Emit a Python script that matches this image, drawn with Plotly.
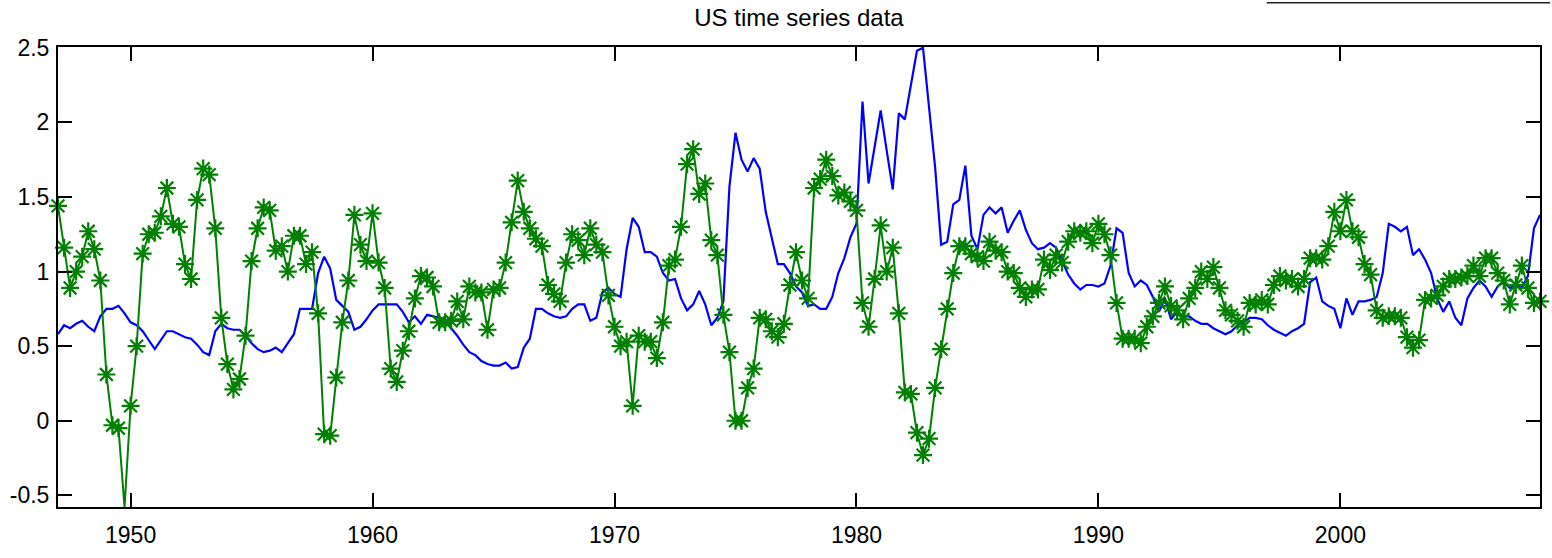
import numpy as np
import plotly.graph_objects as go

# Quarterly observations, 1947Q1 .. 2008Q2
start_year = 1947.0
quarter_step = 0.25

blue_series = [
    0.58, 0.64, 0.62, 0.65, 0.67, 0.63, 0.60, 0.70, 0.75, 0.75,
    0.77, 0.72, 0.66, 0.64, 0.60, 0.54, 0.48, 0.54, 0.60, 0.60,
    0.58, 0.56, 0.55, 0.51, 0.46, 0.44, 0.60, 0.65, 0.62, 0.61,
    0.61, 0.57, 0.52, 0.48, 0.46, 0.47, 0.49, 0.46, 0.52, 0.58,
    0.75, 0.75, 0.75, 0.99, 1.10, 1.02, 0.81, 0.77, 0.73, 0.61,
    0.63, 0.68, 0.74, 0.78, 0.78, 0.78, 0.78, 0.73, 0.66, 0.70,
    0.65, 0.71, 0.70, 0.69, 0.68, 0.62, 0.57, 0.51, 0.46, 0.44,
    0.40, 0.38, 0.37, 0.37, 0.39, 0.35, 0.36, 0.49, 0.55, 0.75,
    0.75, 0.72, 0.70, 0.69, 0.70, 0.75, 0.78, 0.78, 0.67, 0.69,
    0.86, 0.89, 0.85, 0.83, 1.15, 1.36, 1.30, 1.13, 1.13, 1.10,
    0.99, 0.94, 0.95, 0.82, 0.74, 0.78, 0.87, 0.78, 0.64, 0.69,
    0.80, 1.57, 1.93, 1.75, 1.67, 1.76, 1.69, 1.40, 1.22, 1.05,
    1.05, 0.99, 0.90, 0.86, 0.77, 0.78, 0.75, 0.75, 0.83, 0.99,
    1.09, 1.23, 1.32, 2.14, 1.59, 1.83, 2.08, 1.81, 1.55, 2.06,
    2.02, 2.25, 2.48, 2.50, 2.10, 1.70, 1.18, 1.20, 1.45, 1.48,
    1.71, 1.24, 1.15, 1.38, 1.43, 1.39, 1.43, 1.26, 1.34, 1.41,
    1.28, 1.19, 1.15, 1.16, 1.19, 1.16, 1.07, 0.98, 0.92, 0.88,
    0.91, 0.91, 0.90, 0.92, 1.04, 1.29, 1.26, 0.99, 0.90, 0.94,
    0.91, 0.83, 0.73, 0.82, 0.68, 0.73, 0.70, 0.70, 0.67, 0.65,
    0.65, 0.62, 0.60, 0.58, 0.60, 0.64, 0.66, 0.69, 0.69, 0.68,
    0.64, 0.61, 0.59, 0.57, 0.60, 0.62, 0.65, 0.93, 0.96, 0.80,
    0.77, 0.75, 0.62, 0.82, 0.71, 0.80, 0.80, 0.81, 0.83, 0.99,
    1.32, 1.30, 1.27, 1.30, 1.11, 1.15, 1.08, 0.99, 0.82, 0.73,
    0.80, 0.69, 0.64, 0.82, 0.89, 0.94, 0.90, 0.83, 0.90, 0.93,
    0.89, 0.91, 0.89, 0.97, 1.29, 1.38,
]

green_series = [
    1.44, 1.16, 0.89, 1.00, 1.10, 1.27, 1.15, 0.94, 0.31, -0.03,
    -0.05, -0.58, 0.10, 0.50, 1.12, 1.25, 1.26, 1.37, 1.56, 1.32,
    1.30, 1.05, 0.95, 1.48, 1.69, 1.65, 1.29, 0.69, 0.38, 0.21,
    0.28, 0.57, 1.07, 1.29, 1.43, 1.41, 1.14, 1.17, 1.00, 1.24,
    1.24, 1.05, 1.13, 0.72, -0.09, -0.10, 0.29, 0.66, 0.94, 1.38,
    1.18, 1.07, 1.39, 1.06, 0.89, 0.35, 0.26, 0.47, 0.60, 0.82,
    0.97, 0.96, 0.90, 0.66, 0.66, 0.67, 0.80, 0.68, 0.90, 0.86,
    0.86, 0.61, 0.88, 0.89, 1.06, 1.33, 1.61, 1.40, 1.29, 1.22,
    1.17, 0.91, 0.85, 0.80, 1.06, 1.25, 1.21, 1.11, 1.29, 1.18,
    1.13, 0.84, 0.63, 0.50, 0.53, 0.10, 0.57, 0.53, 0.53, 0.42,
    0.66, 1.04, 1.08, 1.30, 1.72, 1.82, 1.52, 1.59, 1.21, 1.11,
    0.71, 0.46, 0.00, 0.00, 0.22, 0.35, 0.69, 0.68, 0.60, 0.56,
    0.65, 0.91, 1.13, 0.94, 0.82, 1.56, 1.62, 1.75, 1.64, 1.51,
    1.53, 1.47, 1.41, 0.79, 0.63, 0.95, 1.31, 1.00, 1.16, 0.72,
    0.19, 0.18, -0.08, -0.23, -0.12, 0.22, 0.48, 0.75, 0.99, 1.17,
    1.17, 1.12, 1.10, 1.07, 1.20, 1.14, 1.13, 1.00, 0.99, 0.89,
    0.83, 0.88, 0.88, 1.08, 1.01, 1.11, 1.06, 1.20, 1.27, 1.26,
    1.27, 1.19, 1.32, 1.25, 1.11, 0.79, 0.55, 0.55, 0.55, 0.52,
    0.63, 0.70, 0.79, 0.90, 0.77, 0.74, 0.68, 0.82, 0.89, 1.00,
    0.95, 1.03, 0.89, 0.74, 0.71, 0.67, 0.63, 0.79, 0.78, 0.81,
    0.78, 0.91, 0.97, 0.94, 0.95, 0.90, 0.95, 1.09, 1.09, 1.08,
    1.17, 1.40, 1.27, 1.48, 1.27, 1.23, 1.05, 0.98, 0.74, 0.69,
    0.70, 0.70, 0.69, 0.56, 0.49, 0.54, 0.81, 0.82, 0.84, 0.90,
    0.95, 0.95, 0.96, 0.97, 1.04, 0.97, 1.09, 1.09, 0.99, 0.94,
    0.78, 0.91, 1.04, 0.89, 0.79, 0.80,
]

x_tick_vals = [1950, 1960, 1970, 1980, 1990, 2000]
x_tick_text = ["1950", "1960", "1970", "1980", "1990", "2000"]
y_tick_vals = [-0.5, 0, 0.5, 1, 1.5, 2, 2.5]
y_tick_text = ["-0.5", "0", "0.5", "1", "1.5", "2", "2.5"]
title_text = "US time series data"

years = start_year + quarter_step * np.arange(len(blue_series))

FONT = "Liberation Sans, Arial, Helvetica, sans-serif"

fig = go.Figure()
fig.add_trace(go.Scatter(
    x=years, y=blue_series, mode="lines",
    line=dict(color="#0000ff", width=2.2),
    showlegend=False,
))
fig.add_trace(go.Scatter(
    x=years, y=green_series, mode="lines+markers",
    line=dict(color="#008000", width=2),
    marker=dict(symbol="asterisk-open", size=15,
                line=dict(color="#008000", width=2.2), color="#008000"),
    cliponaxis=False,
    showlegend=False,
))

W, H = 1552, 558
ml, mr, mt, mb = 56, 10, 47, 34

axis_common = dict(
    showline=True, linecolor="black", linewidth=2,
    mirror="ticks", ticks="inside", ticklen=14, tickwidth=2,
    tickcolor="black", showgrid=False, zeroline=False,
    tickfont=dict(family=FONT, size=23, color="black"),
)

fig.update_layout(
    width=W, height=H,
    margin=dict(l=ml, r=mr, t=mt, b=mb, pad=0),
    paper_bgcolor="white", plot_bgcolor="white",
    title=dict(text=title_text, x=(ml + (W - ml - mr) / 2) / W, xanchor="center",
               y=1 - 18 / H, yanchor="middle",
               font=dict(family=FONT, size=24, color="black")),
    xaxis=dict(range=[1947.0, 2008.25], tickvals=x_tick_vals,
               ticktext=x_tick_text, ticklabelstandoff=6, **axis_common),
    yaxis=dict(range=[-0.578, 2.505], tickvals=y_tick_vals,
               ticktext=y_tick_text, ticklabelstandoff=2, **axis_common),
    shapes=[dict(type="line", xref="paper", yref="paper",
                 x0=(1268 - ml) / (W - ml - mr), x1=(W - ml) / (W - ml - mr),
                 y0=(H - mb - 1) / (H - mt - mb), y1=(H - mb - 1) / (H - mt - mb),
                 line=dict(color="#222222", width=1.5))],
)

fig.write_html("out.html")
